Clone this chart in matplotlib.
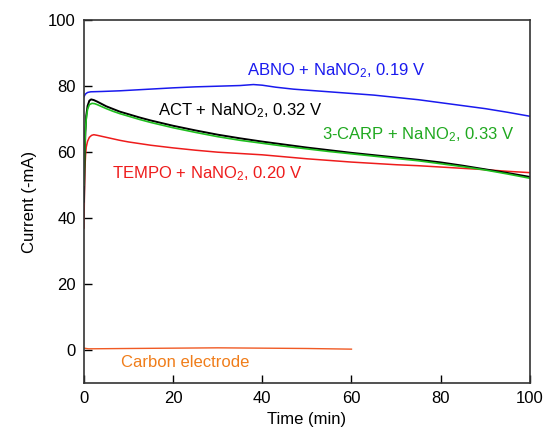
import matplotlib
matplotlib.use("Agg")
import matplotlib.pyplot as plt

plt.rcParams['font.family'] = ['Liberation Sans', 'DejaVu Sans']
plt.rcParams['mathtext.fontset'] = 'custom'
plt.rcParams['mathtext.rm'] = 'Liberation Sans'
plt.rcParams['mathtext.it'] = 'Liberation Sans:italic'

# (time in min, current in -mA)
t_abno = [0, 0.3, 0.8, 1.5, 4, 8, 12, 16, 20, 25, 30, 35, 38, 40, 43, 47, 50,
          55, 60, 65, 70, 75, 80, 85, 90, 95, 100]
i_abno = [76.8, 77.6, 78.1, 78.3, 78.4, 78.6, 78.9, 79.2, 79.5, 79.8, 80.0, 80.2,
          80.5, 80.3, 79.7, 79.1, 78.8, 78.3, 77.8, 77.3, 76.6, 75.9, 75.0, 74.1,
          73.2, 72.1, 70.9]

t_act = [0, 0.15, 0.3, 0.5, 0.8, 1.2, 1.6, 2.2, 3, 4, 5, 6.5, 8, 10, 12.5, 15,
         20, 25, 30, 35, 40, 45, 50, 55, 60, 65, 70, 75, 80, 85, 90, 95, 100]
i_act = [45, 58, 66, 71, 74, 75.6, 76.0, 75.8, 75.3, 74.6, 73.9, 73.1, 72.3,
         71.5, 70.5, 69.6, 68.0, 66.6, 65.3, 64.2, 63.2, 62.3, 61.4, 60.6, 59.8,
         59.1, 58.4, 57.7, 56.9, 55.9, 54.8, 53.7, 52.5]

t_carp = [0, 0.15, 0.3, 0.5, 0.8, 1.2, 1.8, 2.4, 3, 4, 5, 6.5, 8, 10, 12.5, 15,
          20, 25, 30, 35, 40, 45, 50, 55, 60, 65, 70, 75, 80, 85, 90, 95, 100]
i_carp = [50, 60, 66, 70, 73, 74.4, 74.8, 74.7, 74.4, 73.8, 73.2, 72.4, 71.7,
          70.9, 69.9, 69.0, 67.4, 66.0, 64.7, 63.6, 62.7, 61.8, 61.0, 60.2, 59.5,
          58.8, 58.1, 57.4, 56.5, 55.6, 54.6, 53.4, 52.1]

t_tempo = [0, 0.1, 0.2, 0.35, 0.5, 0.8, 1.2, 1.7, 2.2, 3, 4, 6, 8, 10, 12.5, 15,
           20, 25, 30, 35, 40, 45, 50, 55, 60, 65, 70, 75, 80, 85, 90, 95, 100]
i_tempo = [37, 48, 55, 59, 61.5, 63.3, 64.5, 65.1, 65.3, 65.1, 64.8, 64.2, 63.6,
           63.1, 62.6, 62.1, 61.3, 60.6, 60.0, 59.6, 59.2, 58.6, 58.0, 57.5, 57.0,
           56.6, 56.2, 55.9, 55.5, 55.1, 54.7, 54.2, 53.8]

t_carbon = [0, 1, 10, 20, 30, 40, 50, 60]
i_carbon = [0.6, 0.4, 0.5, 0.6, 0.7, 0.6, 0.5, 0.3]

fig = plt.figure(figsize=(5.49, 4.30), dpi=100)
ax = fig.add_axes([0.153, 0.109, 0.812, 0.844])

ax.plot(t_carbon, i_carbon, color='#f05a24', lw=1.0)
ax.plot(t_tempo, i_tempo, color='#ee1c1c', lw=1.1)
ax.plot(t_act, i_act, color='black', lw=1.4)
ax.plot(t_carp, i_carp, color='#1fbf1f', lw=1.2)
ax.plot(t_abno, i_abno, color='#1a1aee', lw=1.1)

fs = 12
ax.text(36.5, 84.8, 'ABNO + NaNO$_2$, 0.19 V', color='#1a1aee', fontsize=fs, va='center')
ax.text(16.6, 72.7, 'ACT + NaNO$_2$, 0.32 V', color='black', fontsize=fs, va='center')
ax.text(53.3, 65.2, '3-CARP + NaNO$_2$, 0.33 V', color='#1fa81f', fontsize=fs, va='center')
ax.text(6.2, 53.5, 'TEMPO + NaNO$_2$, 0.20 V', color='#ee1c1c', fontsize=fs, va='center')
ax.text(8.4, -3.8, 'Carbon electrode', color='#f07d1a', fontsize=fs, va='center')

ax.set_xlim(0, 100)
ax.set_ylim(-10, 100)
ax.set_xticks([0, 20, 40, 60, 80, 100])
ax.set_yticks([0, 20, 40, 60, 80, 100])
ax.tick_params(direction='in', length=5.5, width=1.0, labelsize=12, pad=6)
for s in ax.spines.values():
    s.set_linewidth(1.2)
    s.set_color('#333333')

ax.set_xlabel('Time (min)', fontsize=12, labelpad=4)
ax.set_ylabel('Current (-mA)', fontsize=12, labelpad=8)

fig.savefig('out.png', dpi=100)
